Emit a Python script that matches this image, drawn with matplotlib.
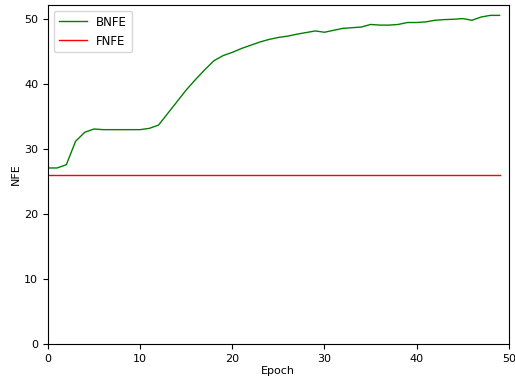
import matplotlib
matplotlib.use("Agg")
import matplotlib.pyplot as plt

epochs = list(range(50))
bnfe = [27.1, 27.1, 27.6, 31.2, 32.6, 33.1, 33.0, 33.0, 33.0, 33.0,
        33.0, 33.2, 33.7, 35.5, 37.3, 39.1, 40.7, 42.2, 43.6, 44.4,
        44.9, 45.5, 46.0, 46.5, 46.9, 47.2, 47.4, 47.7, 47.95, 48.2,
        48.0, 48.3, 48.6, 48.7, 48.8, 49.2, 49.1, 49.1, 49.2, 49.5,
        49.5, 49.6, 49.85, 49.95, 50.0, 50.1, 49.85, 50.35, 50.6, 50.6]
fnfe = [26.0] * 50

plt.rcParams['font.size'] = 8

fig = plt.figure(figsize=(5.15, 3.83), dpi=100)
ax = fig.add_axes([0.093, 0.102, 0.895, 0.885])

ax.plot(epochs, bnfe, color='green', linewidth=1.0, label='BNFE')
ax.plot(epochs, fnfe, color='red', linewidth=1.0, label='FNFE')

ax.set_xlim(0, 50)
ax.set_ylim(0, 52.2)
ax.set_xlabel('Epoch', labelpad=2)
ax.set_ylabel('NFE', labelpad=2)
ax.legend(loc='upper left', fontsize=8.5, handlelength=2.4)

plt.savefig('out.png', dpi=100)
